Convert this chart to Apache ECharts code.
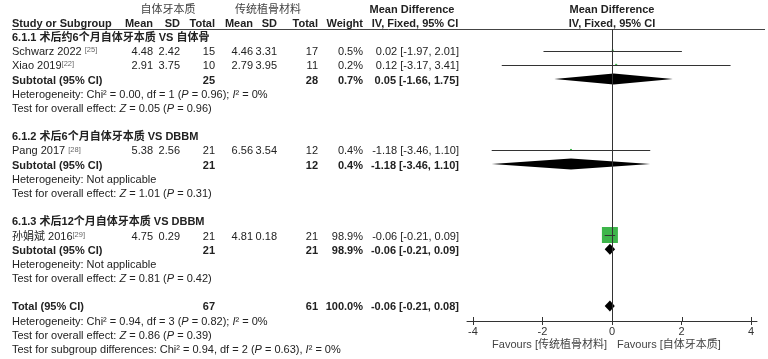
<!DOCTYPE html>
<html><head><meta charset="utf-8">
<script src="https://cdn.jsdelivr.net/npm/echarts@6/dist/echarts.min.js"></script>
<style>html,body{margin:0;padding:0;background:#fff}#c{width:768px;height:359px}</style>
</head><body><div id="c"></div>
<script>
// ---- data ----
const studies = ['Schwarz 2022 ', 'Xiao 2019', 'Pang 2017 ', '孙娟斌 2016'];
const refs = ['[25]', '[22]', '[28]', '[29]'];
const expMean = [4.48, 2.91, 5.38, 4.75];
const expSD = [2.42, 3.75, 2.56, 0.29];
const expTotal = [15, 10, 21, 21];
const ctrlMean = [4.46, 2.79, 6.56, 4.81];
const ctrlSD = [3.31, 3.95, 3.54, 0.18];
const ctrlTotal = [17, 11, 12, 21];
const weights = [0.5, 0.2, 0.4, 98.9];
const md = [0.02, 0.12, -1.18, -0.06];
const mdLow = [-1.97, -3.17, -3.46, -0.21];
const mdHigh = [2.01, 3.41, 1.10, 0.09];
const studyRows = [1, 2, 8, 14];

const summaryLabels = ['Subtotal (95% CI)', 'Subtotal (95% CI)', 'Subtotal (95% CI)', 'Total (95% CI)'];
const summaryExpTotal = [25, 21, 21, 67];
const summaryCtrlTotal = [28, 12, 21, 61];
const summaryWeight = [0.7, 0.4, 98.9, 100.0];
const summaryMd = [0.05, -1.18, -0.06, -0.06];
const summaryLow = [-1.66, -3.46, -0.21, -0.21];
const summaryHigh = [1.75, 1.10, 0.09, 0.08];
const summaryRows = [3, 9, 15, 19];

const groupTitles = ['6.1.1 术后约6个月自体牙本质 VS 自体骨', '6.1.2 术后6个月自体牙本质 VS DBBM', '6.1.3 术后12个月自体牙本质 VS DBBM'];
const groupRows = [0, 7, 13];

const noteLines = [
  'Heterogeneity: Chi² = 0.00, df = 1 ({i|P} = 0.96); {i|I}² = 0%',
  'Test for overall effect: {i|Z} = 0.05 ({i|P} = 0.96)',
  'Heterogeneity: Not applicable',
  'Test for overall effect: {i|Z} = 1.01 ({i|P} = 0.31)',
  'Heterogeneity: Not applicable',
  'Test for overall effect: {i|Z} = 0.81 ({i|P} = 0.42)',
  'Heterogeneity: Chi² = 0.94, df = 3 ({i|P} = 0.82); {i|I}² = 0%',
  'Test for overall effect: {i|Z} = 0.86 ({i|P} = 0.39)',
  'Test for subgroup differences: Chi² = 0.94, df = 2 ({i|P} = 0.63), {i|I}² = 0%'
];
const noteRows = [4, 5, 10, 11, 16, 17, 20, 21, 22];

const xTicks = [-4, -2, 0, 2, 4];
const groupHeaders = ['自体牙本质', '传统植骨材料'];
const colHeaders = ['Mean', 'SD', 'Total', 'Mean', 'SD', 'Total', 'Weight'];
const favours = ['Favours [传统植骨材料]', 'Favours [自体牙本质]'];

// ---- chart ----
const FF = "'Liberation Sans', Arial, 'Noto Sans CJK SC', sans-serif";
const TXT = '#222';
const chart = echarts.init(document.getElementById('c'), null, {renderer: 'canvas'});

const studyData = md.map((m, i) => [m, studyRows[i], mdLow[i], mdHigh[i], weights[i]]);
const diamondData = summaryMd.map((m, i) => [m, summaryRows[i], summaryLow[i], summaryHigh[i]]);

chart.setOption({
  animation: false,
  grid: {left: 467, width: 290, top: 29, height: 292, containLabel: false},
  xAxis: {type: 'value', min: -4.17, max: 4.17, position: 'bottom',
     axisLine: {show: true, onZero: false, lineStyle: {color: '#333', width: 1}},
     axisTick: {show: true, customValues: xTicks, length: 4, lineStyle: {color: '#333'}},
     axisLabel: {show: true, customValues: xTicks, margin: 5, color: '#333', fontSize: 11, fontFamily: FF},
     splitLine: {show: false}},
  yAxis: {type: 'value', min: -0.529, max: 20.063, inverse: true, show: false,
     axisLine: {onZero: false}},
  series: [
    {
      type: 'custom', xAxisIndex: 0, yAxisIndex: 0, data: studyData,
      encode: {x: [0, 2, 3], y: 1}, z: 3,
      renderItem: function (params, api) {
        const y = api.coord([0, api.value(1)])[1];
        const xl = api.coord([api.value(2), 0])[0];
        const xh = api.coord([api.value(3), 0])[0];
        const xm = api.coord([api.value(0), 0])[0];
        const s = Math.max(2, 16 * Math.sqrt(api.value(4) / 98.9));
        return {type: 'group', children: [
          {type: 'rect', shape: {x: xm - s / 2, y: y - s / 2, width: s, height: s}, style: {fill: '#3db54a'}},
          {type: 'line', shape: {x1: xl, y1: Math.round(y) + 0.5, x2: xh, y2: Math.round(y) + 0.5}, style: {stroke: '#333', lineWidth: 1}}
        ]};
      },
      markLine: {silent: true, symbol: 'none', label: {show: false},
        lineStyle: {color: '#333', width: 1, type: 'solid'}, data: [{xAxis: 0}]}
    },
    {
      type: 'custom', xAxisIndex: 0, yAxisIndex: 0, data: diamondData,
      encode: {x: [0, 2, 3], y: 1}, z: 4,
      renderItem: function (params, api) {
        const y = api.coord([0, api.value(1)])[1];
        const xl = api.coord([api.value(2), 0])[0];
        const xh = api.coord([api.value(3), 0])[0];
        const xm = api.coord([api.value(0), 0])[0];
        const h = 5.5;
        return {type: 'polygon', shape: {points: [[xl, y], [xm, y - h], [xh, y], [xm, y + h]]}, style: {fill: '#000'}};
      }
    },
    {
      // upper half of the crossing axis ticks
      type: 'custom', xAxisIndex: 0, yAxisIndex: 0, data: xTicks.map(v => [v]),
      encode: {x: 0}, silent: true, z: 2,
      renderItem: function (params, api) {
        const cs = params.coordSys;
        const x = Math.round(api.coord([api.value(0), 0])[0]) + 0.5;
        const yb = cs.y + cs.height;
        return {type: 'line', shape: {x1: x, y1: yb - 4, x2: x, y2: yb}, style: {stroke: '#333', lineWidth: 1}};
      }
    }
  ]
});

// ---- table text ----
const yOf = r => chart.convertToPixel({yAxisIndex: 0}, r) + 1.5;
const xZero = chart.convertToPixel({xAxisIndex: 0}, 0);
const rich = {
  i: {fontStyle: 'italic', fontSize: 11, fontFamily: FF, fill: TXT},
  sup: {fontSize: 7.5, fontFamily: FF, fill: '#666', verticalAlign: 'top', padding: [0, 0, 4, 0]}
};
function T(x, y, text, align, bold, color, size) {
  return {type: 'text', x: x, y: y, silent: true, style: {
    text: text, align: align || 'left', verticalAlign: 'middle',
    fontSize: size || 11, fontFamily: FF, fontWeight: bold ? 'bold' : 'normal',
    fill: color || TXT, rich: rich}};
}
const colRight = [153, 180, 215, 253, 277, 318, 363];
const mdRight = 459;
const g = [];
g.push(T(168, 10, groupHeaders[0], 'center', false, '#444'));
g.push(T(268, 10, groupHeaders[1], 'center', false, '#444'));
g.push(T(412, 10, 'Mean Difference', 'center', true));
g.push(T(xZero, 10, 'Mean Difference', 'center', true));
g.push(T(12, 24, 'Study or Subgroup', 'left', true));
colHeaders.forEach((h, i) => g.push(T(colRight[i], 24, h, 'right', true)));
g.push(T(415, 24, 'IV, Fixed, 95% CI', 'center', true));
g.push(T(xZero, 24, 'IV, Fixed, 95% CI', 'center', true));
g.push({type: 'line', silent: true, shape: {x1: 12, y1: 29.5, x2: 765, y2: 29.5}, style: {stroke: '#444', lineWidth: 1}});

groupTitles.forEach((t, i) => g.push(T(12, yOf(groupRows[i]), t, 'left', true)));
const ci = (m, l, h) => m.toFixed(2) + ' [' + l.toFixed(2) + ', ' + h.toFixed(2) + ']';
studies.forEach((s, i) => {
  const y = yOf(studyRows[i]);
  g.push(T(12, y, s + '{sup|' + refs[i] + '}', 'left'));
  const vals = [expMean[i].toFixed(2), expSD[i].toFixed(2), String(expTotal[i]),
    ctrlMean[i].toFixed(2), ctrlSD[i].toFixed(2), String(ctrlTotal[i]), weights[i].toFixed(1) + '%'];
  vals.forEach((v, k) => g.push(T(colRight[k], y, v, 'right')));
  g.push(T(mdRight, y, ci(md[i], mdLow[i], mdHigh[i]), 'right'));
});
summaryLabels.forEach((s, i) => {
  const y = yOf(summaryRows[i]);
  g.push(T(12, y, s, 'left', true));
  g.push(T(colRight[2], y, String(summaryExpTotal[i]), 'right', true));
  g.push(T(colRight[5], y, String(summaryCtrlTotal[i]), 'right', true));
  g.push(T(colRight[6], y, summaryWeight[i].toFixed(1) + '%', 'right', true));
  g.push(T(mdRight, y, ci(summaryMd[i], summaryLow[i], summaryHigh[i]), 'right', true));
});
noteLines.forEach((t, i) => g.push(T(12, yOf(noteRows[i]), t, 'left')));
g.push(T(xZero - 5, 345, favours[0], 'right', false, '#444'));
g.push(T(xZero + 5, 345, favours[1], 'left', false, '#444'));

chart.setOption({graphic: g});
</script>
</body></html>
